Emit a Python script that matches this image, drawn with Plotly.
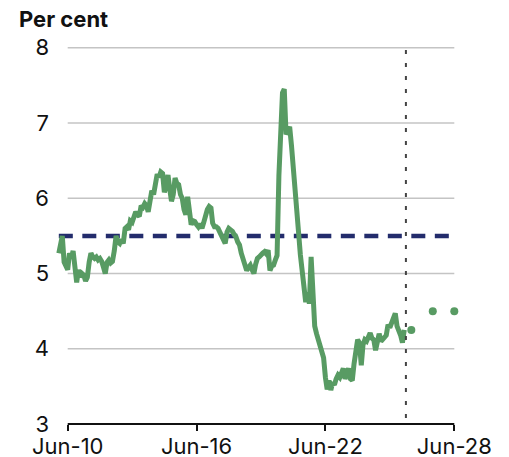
import pandas as pd
import plotly.graph_objects as go

# ---------------- data ----------------
start_month = "2010-01-01"
unemployment_rate = [
    5.27, 5.45, 5.50, 5.15, 5.10, 5.05, 5.27, 5.20, 5.30, 5.10, 4.88, 5.05,  # 2010
    4.95, 5.00, 4.98, 4.90, 4.95, 5.15, 5.27, 5.22, 5.20, 5.22, 5.18, 5.20,  # 2011
    5.16, 5.08, 5.00, 5.15, 5.18, 5.14, 5.16, 5.30, 5.50, 5.42, 5.40, 5.45,  # 2012
    5.40, 5.60, 5.62, 5.58, 5.70, 5.68, 5.75, 5.82, 5.78, 5.76, 5.90, 5.88,  # 2013
    5.93, 5.90, 5.82, 5.95, 6.10, 6.05, 6.20, 6.32, 6.28, 6.35, 6.33, 6.08,  # 2014
    6.15, 6.31, 6.13, 5.96, 6.05, 6.27, 6.20, 6.18, 6.05, 6.00, 5.85, 5.78,  # 2015
    6.02, 5.73, 5.65, 5.70, 5.69, 5.65, 5.62, 5.66, 5.60, 5.68, 5.78, 5.85,  # 2016
    5.89, 5.87, 5.67, 5.62, 5.62, 5.60, 5.55, 5.49, 5.45, 5.40, 5.55, 5.60,  # 2017
    5.58, 5.56, 5.52, 5.49, 5.42, 5.38, 5.27, 5.20, 5.13, 5.04, 5.08, 5.11,  # 2018
    5.05, 5.00, 5.12, 5.20, 5.22, 5.26, 5.27, 5.29, 5.26, 5.31, 5.04, 5.10,  # 2019
    5.11, 5.18, 5.24, 6.30, 7.10, 7.40, 7.45, 6.85, 6.90, 6.95, 6.70, 6.45,  # 2020
    6.10, 5.80, 5.55, 5.25, 5.05, 4.85, 4.62, 4.75, 4.60, 5.22, 4.62, 4.30,  # 2021
    4.20, 4.10, 4.05, 3.95, 3.88, 3.62, 3.46, 3.58, 3.45, 3.55, 3.52, 3.60,  # 2022
    3.65, 3.62, 3.70, 3.74, 3.60, 3.70, 3.74, 3.60, 3.58, 3.80, 4.02, 4.12,  # 2023
    4.08, 3.78, 4.05, 4.12, 4.10, 4.16, 4.21, 4.14, 4.12, 3.98, 4.10, 4.20,  # 2024
    4.10, 4.12, 4.15, 4.18, 4.32, 4.28, 4.33, 4.38, 4.47, 4.30, 4.25, 4.18,  # 2025
    4.08, 4.25,                                                              # 2026
]
forecast_dates = ["2026-06-01", "2027-06-01", "2028-06-01"]
forecast_values = [4.25, 4.5, 4.5]
benchmark_dates = ["2010-01-01", "2028-06-01"]
benchmark_values = [5.5, 5.5]
latest_marker_date = "2026-03-01"
x_tick_dates = ["2010-06-01", "2016-06-01", "2022-06-01", "2028-06-01"]
x_tick_labels = ["Jun-10", "Jun-16", "Jun-22", "Jun-28"]
y_ticks = [3, 4, 5, 6, 7, 8]
y_gridlines = [4, 5, 6, 7, 8]

months = pd.date_range(start_month, periods=len(unemployment_rate), freq="MS")

# ---------------- style ----------------
GREEN = "#589b63"
NAVY = "#232c6c"
GRID = "#c4c4c4"
TEXT = "#111111"
FONT = "Inter"

# the page body adds an 8px offset; the figure is sized to fit the window
FIG_W, FIG_H = 501, 449
L, T, PLOT_W, PLOT_H = 42, 36.2, 409, 379.8


def paper_y(py):
    """figure pixel (from top) -> paper coordinate"""
    return (T + PLOT_H - py) / PLOT_H


fig = go.Figure()

fig.add_trace(go.Scatter(
    x=benchmark_dates, y=benchmark_values, mode="lines",
    line=dict(color=NAVY, width=4.5, dash="14px,9.5px"),
    hoverinfo="skip", showlegend=False,
))
fig.add_trace(go.Scatter(
    x=months, y=unemployment_rate, mode="lines",
    line=dict(color=GREEN, width=5), showlegend=False,
))
fig.add_trace(go.Scatter(
    x=forecast_dates, y=forecast_values, mode="markers",
    marker=dict(color=GREEN, size=8), showlegend=False,
))

shapes = []
for g in y_gridlines:
    shapes.append(dict(type="line", xref="x", yref="y",
                       x0=x_tick_dates[0], x1=x_tick_dates[-1], y0=g, y1=g,
                       line=dict(color=GRID, width=1.3), layer="below"))
# x axis baseline
shapes.append(dict(type="line", xref="x", yref="paper",
                   x0=x_tick_dates[0], x1=x_tick_dates[-1], y0=0, y1=0,
                   line=dict(color=TEXT, width=2)))
# latest-data marker
shapes.append(dict(type="line", xref="x", yref="y",
                   x0=latest_marker_date, x1=latest_marker_date, y0=3.08, y1=8.0,
                   line=dict(color="#444444", width=2, dash="4px,9px")))

fig.update_layout(
    width=FIG_W, height=FIG_H,
    margin=dict(l=L, r=FIG_W - L - PLOT_W, t=T, b=FIG_H - T - PLOT_H, autoexpand=False),
    paper_bgcolor="white", plot_bgcolor="white",
    font=dict(family=FONT, size=22, color=TEXT),
    shapes=shapes,
    showlegend=False,
    xaxis=dict(
        type="date", range=["2009-08-04", "2028-08-20"],
        tickvals=x_tick_dates, ticktext=x_tick_labels,
        ticks="outside", ticklen=6, tickwidth=2, tickcolor=TEXT,
        showgrid=False, showline=False, zeroline=False, automargin=False,
        ticklabelstandoff=-3,
        tickfont=dict(family=FONT, size=22, color=TEXT),
    ),
    yaxis=dict(
        range=[3, 8.05], tickvals=y_ticks,
        showgrid=False, showline=False, zeroline=False, ticks="", automargin=False,
        tickfont=dict(family=FONT, size=22, color=TEXT),
    ),
    annotations=[dict(
        text="<b>Per cent</b>", xref="paper", yref="paper",
        x=(9 - L) / PLOT_W, y=paper_y(-4),
        xanchor="left", yanchor="top",
        showarrow=False, font=dict(family=FONT, size=22, color=TEXT),
    )],
)

fig.write_html("out.html")
